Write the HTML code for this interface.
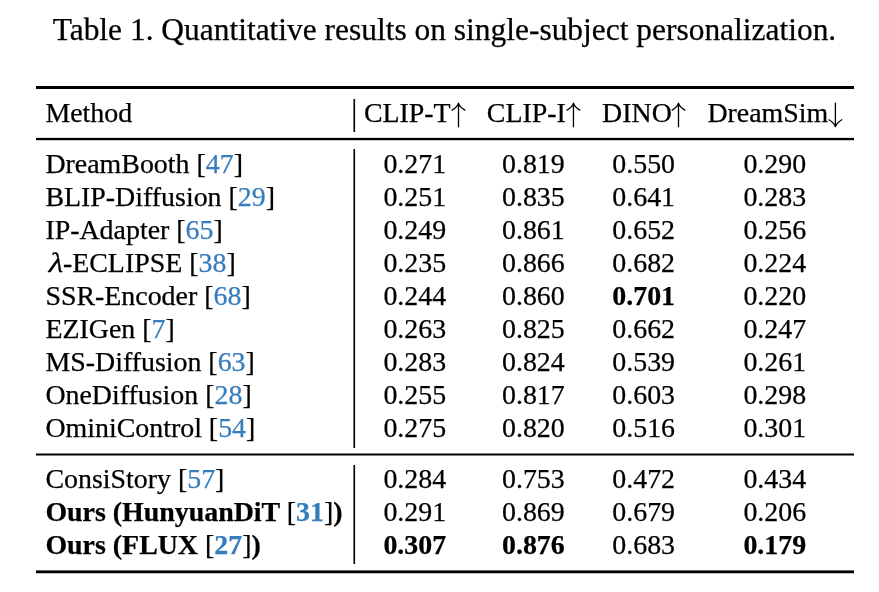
<!DOCTYPE html>
<html><head><meta charset="utf-8"><title>Table 1</title>
<style>
html,body{margin:0;padding:0;background:#fff;width:879px;height:592px;overflow:hidden}
body{position:relative;font-family:"Liberation Serif","Times New Roman",serif;color:#000;-webkit-text-stroke:0.25px currentColor}
.t{position:absolute;white-space:nowrap;line-height:1}
.c{text-align:center}
.b{color:#367dbd}
.n{font-weight:normal}
.r{position:absolute;background:#000}
.v{box-shadow:-1px 0 0 rgba(0,0,0,.55),1px 0 0 rgba(0,0,0,.08)}
.ar{position:absolute;overflow:visible}
.lam{display:inline-block;transform:skewX(-12deg) scaleX(1.14);transform-origin:0 100%;margin-left:0.5px;margin-right:3.5px}
</style></head><body>
<div class="t " style="left:52.70px;top:14.46px;font-size:31.45px;">Table 1. Quantitative results on single-subject personalization.</div>
<div class="t " style="left:45.40px;top:99.00px;font-size:27.9px;">Method</div>
<div class="t " style="left:363.90px;top:99.00px;font-size:27.9px;">CLIP-T</div>
<svg class="ar" style="left:449px;top:101px" width="18" height="28" viewBox="0 0 18 28"><path d="M9.50 2.20V26.20M2.70 9.40Q8.00 6.30 9.50 2.20Q11.00 6.30 16.30 9.40" fill="none" stroke="#000" stroke-width="1.3" stroke-linejoin="round"/></svg>
<div class="t " style="left:486.80px;top:99.00px;font-size:27.9px;">CLIP-I</div>
<svg class="ar" style="left:564px;top:101px" width="18" height="28" viewBox="0 0 18 28"><path d="M9.45 2.20V26.20M2.65 9.40Q7.95 6.30 9.45 2.20Q10.95 6.30 16.25 9.40" fill="none" stroke="#000" stroke-width="1.3" stroke-linejoin="round"/></svg>
<div class="t " style="left:602.10px;top:99.00px;font-size:27.9px;">DINO</div>
<svg class="ar" style="left:669px;top:101px" width="18" height="28" viewBox="0 0 18 28"><path d="M9.50 2.20V26.20M2.70 9.40Q8.00 6.30 9.50 2.20Q11.00 6.30 16.30 9.40" fill="none" stroke="#000" stroke-width="1.3" stroke-linejoin="round"/></svg>
<div class="t " style="left:707.40px;top:99.00px;font-size:27.9px;">DreamSim</div>
<svg class="ar" style="left:826px;top:101px" width="18" height="28" viewBox="0 0 18 28"><path d="M9.40 1.70V25.70M2.60 18.50Q7.90 21.60 9.40 25.70Q10.90 21.60 16.20 18.50" fill="none" stroke="#000" stroke-width="1.3" stroke-linejoin="round"/></svg>
<div class="t " style="left:45.40px;top:150.00px;font-size:27.9px;">DreamBooth [<span class="b">47</span>]</div>
<div class="t c " style="left:354.80px;width:120px;top:150.00px;font-size:27.9px">0.271</div>
<div class="t c " style="left:473.40px;width:120px;top:150.00px;font-size:27.9px">0.819</div>
<div class="t c " style="left:583.70px;width:120px;top:150.00px;font-size:27.9px">0.550</div>
<div class="t c " style="left:714.80px;width:120px;top:150.00px;font-size:27.9px">0.290</div>
<div class="t " style="left:45.40px;top:183.00px;font-size:27.9px;">BLIP-Diffusion [<span class="b">29</span>]</div>
<div class="t c " style="left:354.80px;width:120px;top:183.00px;font-size:27.9px">0.251</div>
<div class="t c " style="left:473.40px;width:120px;top:183.00px;font-size:27.9px">0.835</div>
<div class="t c " style="left:583.70px;width:120px;top:183.00px;font-size:27.9px">0.641</div>
<div class="t c " style="left:714.80px;width:120px;top:183.00px;font-size:27.9px">0.283</div>
<div class="t " style="left:45.40px;top:216.00px;font-size:27.9px;">IP-Adapter [<span class="b">65</span>]</div>
<div class="t c " style="left:354.80px;width:120px;top:216.00px;font-size:27.9px">0.249</div>
<div class="t c " style="left:473.40px;width:120px;top:216.00px;font-size:27.9px">0.861</div>
<div class="t c " style="left:583.70px;width:120px;top:216.00px;font-size:27.9px">0.652</div>
<div class="t c " style="left:714.80px;width:120px;top:216.00px;font-size:27.9px">0.256</div>
<div class="t " style="left:45.40px;top:249.00px;font-size:27.9px;"><span class="lam">λ</span>-ECLIPSE [<span class="b">38</span>]</div>
<div class="t c " style="left:354.80px;width:120px;top:249.00px;font-size:27.9px">0.235</div>
<div class="t c " style="left:473.40px;width:120px;top:249.00px;font-size:27.9px">0.866</div>
<div class="t c " style="left:583.70px;width:120px;top:249.00px;font-size:27.9px">0.682</div>
<div class="t c " style="left:714.80px;width:120px;top:249.00px;font-size:27.9px">0.224</div>
<div class="t " style="left:45.40px;top:282.00px;font-size:27.9px;">SSR-Encoder [<span class="b">68</span>]</div>
<div class="t c " style="left:354.80px;width:120px;top:282.00px;font-size:27.9px">0.244</div>
<div class="t c " style="left:473.40px;width:120px;top:282.00px;font-size:27.9px">0.860</div>
<div class="t c " style="left:583.70px;width:120px;top:282.00px;font-size:27.9px"><b>0.701</b></div>
<div class="t c " style="left:714.80px;width:120px;top:282.00px;font-size:27.9px">0.220</div>
<div class="t " style="left:45.40px;top:315.00px;font-size:27.9px;">EZIGen [<span class="b">7</span>]</div>
<div class="t c " style="left:354.80px;width:120px;top:315.00px;font-size:27.9px">0.263</div>
<div class="t c " style="left:473.40px;width:120px;top:315.00px;font-size:27.9px">0.825</div>
<div class="t c " style="left:583.70px;width:120px;top:315.00px;font-size:27.9px">0.662</div>
<div class="t c " style="left:714.80px;width:120px;top:315.00px;font-size:27.9px">0.247</div>
<div class="t " style="left:45.40px;top:348.00px;font-size:27.9px;">MS-Diffusion [<span class="b">63</span>]</div>
<div class="t c " style="left:354.80px;width:120px;top:348.00px;font-size:27.9px">0.283</div>
<div class="t c " style="left:473.40px;width:120px;top:348.00px;font-size:27.9px">0.824</div>
<div class="t c " style="left:583.70px;width:120px;top:348.00px;font-size:27.9px">0.539</div>
<div class="t c " style="left:714.80px;width:120px;top:348.00px;font-size:27.9px">0.261</div>
<div class="t " style="left:45.40px;top:381.00px;font-size:27.9px;">OneDiffusion [<span class="b">28</span>]</div>
<div class="t c " style="left:354.80px;width:120px;top:381.00px;font-size:27.9px">0.255</div>
<div class="t c " style="left:473.40px;width:120px;top:381.00px;font-size:27.9px">0.817</div>
<div class="t c " style="left:583.70px;width:120px;top:381.00px;font-size:27.9px">0.603</div>
<div class="t c " style="left:714.80px;width:120px;top:381.00px;font-size:27.9px">0.298</div>
<div class="t " style="left:45.40px;top:414.00px;font-size:27.9px;">OminiControl [<span class="b">54</span>]</div>
<div class="t c " style="left:354.80px;width:120px;top:414.00px;font-size:27.9px">0.275</div>
<div class="t c " style="left:473.40px;width:120px;top:414.00px;font-size:27.9px">0.820</div>
<div class="t c " style="left:583.70px;width:120px;top:414.00px;font-size:27.9px">0.516</div>
<div class="t c " style="left:714.80px;width:120px;top:414.00px;font-size:27.9px">0.301</div>
<div class="t " style="left:45.40px;top:465.00px;font-size:27.9px;">ConsiStory [<span class="b">57</span>]</div>
<div class="t c " style="left:354.80px;width:120px;top:465.00px;font-size:27.9px">0.284</div>
<div class="t c " style="left:473.40px;width:120px;top:465.00px;font-size:27.9px">0.753</div>
<div class="t c " style="left:583.70px;width:120px;top:465.00px;font-size:27.9px">0.472</div>
<div class="t c " style="left:714.80px;width:120px;top:465.00px;font-size:27.9px">0.434</div>
<div class="t " style="left:45.40px;top:498.00px;font-size:27.9px;"><b>Ours (HunyuanDiT <span class="n">[</span><span class="b">31</span><span class="n">]</span>)</b></div>
<div class="t c " style="left:354.80px;width:120px;top:498.00px;font-size:27.9px">0.291</div>
<div class="t c " style="left:473.40px;width:120px;top:498.00px;font-size:27.9px">0.869</div>
<div class="t c " style="left:583.70px;width:120px;top:498.00px;font-size:27.9px">0.679</div>
<div class="t c " style="left:714.80px;width:120px;top:498.00px;font-size:27.9px">0.206</div>
<div class="t " style="left:45.40px;top:531.00px;font-size:27.9px;"><b>Ours (FLUX <span class="n">[</span><span class="b">27</span><span class="n">]</span>)</b></div>
<div class="t c " style="left:354.80px;width:120px;top:531.00px;font-size:27.9px"><b>0.307</b></div>
<div class="t c " style="left:473.40px;width:120px;top:531.00px;font-size:27.9px"><b>0.876</b></div>
<div class="t c " style="left:583.70px;width:120px;top:531.00px;font-size:27.9px">0.683</div>
<div class="t c " style="left:714.80px;width:120px;top:531.00px;font-size:27.9px"><b>0.179</b></div>
<div class="r" style="left:36px;width:818px;top:86px;height:3px;"></div>
<div class="r" style="left:36px;width:818px;top:138px;height:2px;box-shadow:0 -1px 0 rgba(0,0,0,.12),0 1px 0 rgba(0,0,0,.2)"></div>
<div class="r" style="left:36px;width:818px;top:454px;height:1px;box-shadow:0 -1px 0 rgba(0,0,0,.5),0 1px 0 rgba(0,0,0,.5)"></div>
<div class="r" style="left:36px;width:818px;top:571px;height:2px;box-shadow:0 -1px 0 rgba(0,0,0,.6),0 1px 0 rgba(0,0,0,.25)"></div>
<div class="r v" style="left:354px;width:1px;top:99px;height:32.60px"></div>
<div class="r v" style="left:354px;width:1px;top:149px;height:299.00px"></div>
<div class="r v" style="left:354px;width:1px;top:465px;height:99.00px"></div>
</body></html>
